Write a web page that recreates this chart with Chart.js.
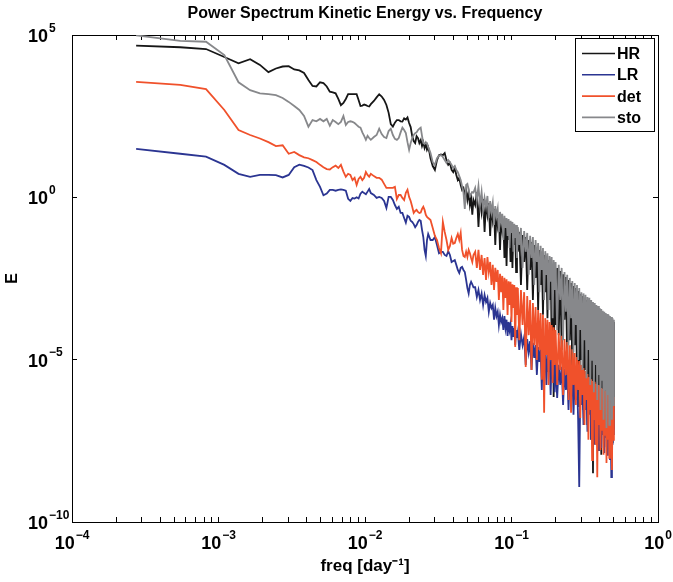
<!DOCTYPE html>
<html>
<head>
<meta charset="utf-8">
<script src="https://cdn.jsdelivr.net/npm/chart.js@4.4.1/dist/chart.umd.min.js"></script>
<style>
html,body{margin:0;padding:0;background:#fff;}
canvas{display:block;}
</style>
</head>
<body>
<canvas id="c" width="673" height="582"></canvas>
<script>
// ---- frequency (day^-1) ----
const freq = [
  0.000274,0.000548,0.000822,0.001096,0.00137,0.001644,0.001918,0.002192,0.002466,0.00274,
  0.003014,0.003288,0.003562,0.003836,0.00411,0.004384,0.004658,0.004932,0.005205,0.00548,
  0.005753,0.006027,0.006301,0.006575,0.006849,0.007123,0.007397,0.007671,0.007945,0.008219,
  0.008493,0.008767,0.009041,0.009315,0.009589,0.009863,0.01014,0.01041,0.01068,0.01096,
  0.0115,0.012,0.0125,0.013,0.0135,0.014,0.0145,0.015,0.0155,0.016,
  0.0165,0.017,0.0175,0.018,0.0185,0.019,0.0195,0.02,0.0205,0.021,
  0.0215,0.022,0.0225,0.023,0.0235,0.024,0.0245,0.025,0.0255,0.026,
  0.0265,0.027,0.0275,
  0.028,0.029,0.030,0.031,0.032,0.033,0.034,0.035,0.036,0.037,
  0.038,0.039,0.040,0.041,0.042,0.043,0.044,0.045,0.046,0.047,
  0.048,0.049,0.050,0.051,0.052,0.053,0.054,0.055,
  0.0565,0.058,0.0595,0.061,0.0625,0.064,0.0655,0.067,0.0685,0.07,
  0.0715,0.073,0.0745,0.076,0.0775,0.079,0.0805,0.082,0.0835,0.085,
  0.0865,0.088,0.0895,0.091,0.0925,0.094,0.0955,0.097,0.0985,0.1,
  0.1015,0.103,0.1045,0.106,0.1075,0.109,0.1105,
  0.113,0.116,0.119,0.122,0.125,0.128,0.131,0.134,0.137,0.140,
  0.143,0.146,0.149,0.152,0.155,0.158,0.161,0.164,0.167,0.170,
  0.173,0.176,0.179,0.182,0.185,0.188,0.191,0.194,0.197,0.200,
  0.205,0.21,0.215,0.22,0.225,0.23,0.235,0.24,0.245,0.25,
  0.255,0.26,0.265,0.27,0.275,0.28,0.285,0.29,0.295,0.30,
  0.305,0.31,0.315,0.32,0.325,0.33,0.335,0.34,0.345,0.35,
  0.355,0.36,0.365,0.37,0.375,0.38,0.385,0.39,0.395,0.40,
  0.405,0.41,0.415,0.42,0.425,0.43,0.435,0.44,0.445,0.45,
  0.455,0.46,0.465,0.47,0.475,0.48,0.485,0.49,0.495,0.50
];

// ---- HR ----
const hr = [
  4.7e4,4.2e4,3.7e4,2.1e4,1.35e4,1.8e4,1.2e4,7.2e3,9.3e3,1.07e4,
  1.1e4,8.7e3,8.1e3,6.8e3,4.1e3,2.7e3,2.6e3,3.5e3,3.3e3,2.6e3,
  1.8e3,1.7e3,1.6e3,1.07e3,690,810,1.07e3,1.5e3,1.5e3,1.5e3,
  1.5e3,1.5e3,1.0e3,650,670,720,690,650,630,740,
  930,1.2e3,1.5e3,1.27e3,1.0e3,700,400,180,150,200,
  240,240,220,215,270,250,290,195,146,77,
  54,47,77,67,47,58,38,50,33,44,
  29,35,25,
  16,9.2,7,14,20,21,20,23,14,10,
  11.4,7,6,8,4.9,3.4,4,2.4,1.7,1.95,
  1.2,1.7,0.83,1.4,0.58,0.96,0.29,0.83,
  0.58,1.46,0.122,1.1,0.355,0.89,0.086,0.72,0.29,0.67,
  0.065,0.54,0.2,0.44,0.034,0.355,0.14,0.29,0.024,0.23,
  0.1,0.2,0.0135,0.175,0.0077,0.152,0.0485,0.13,0.0102,0.114,
  0.0067,0.106,0.034,0.092,0.005,0.086,0.021,
  0.086,0.002,0.069,0.0102,0.06,0.0014,0.0485,0.0058,0.042,6.9e-4,
  0.034,0.0033,0.0275,3.4e-4,0.024,0.002,0.021,2.4e-4,0.0168,0.0012,
  0.0135,1.9e-4,0.0117,6.9e-4,0.0102,4e-5,8.3e-3,7.1e-7,7.2e-3,1.17e-4,
  6.7e-3,5.7e-5,5.4e-3,2e-5,4.3e-3,1.7e-4,3.5e-3,9.8e-6,2.85e-3,4e-5,
  2.3e-3,4.2e-6,1.86e-3,2.8e-5,1.6e-3,2.4e-6,1.3e-3,3.5e-7,1.06e-3,9.8e-6,
  9.2e-4,2.8e-7,8e-4,4.8e-6,6.9e-4,9.8e-8,6e-4,2.4e-6,5.2e-4,3.4e-8,
  4.85e-4,3.2e-9,4.2e-4,2e-7,3.9e-4,1.17e-6,3.4e-4,1.66e-8,3.2e-4,5.7e-7,
  3e-4,1.17e-8,2.56e-4,2.8e-7,2.4e-4,2e-8,2.2e-4,1.4e-7,2.07e-4,3.4e-8,
  1.9e-4,4e-7,1.8e-4,2.4e-8,1.7e-4,1.6e-7,1.56e-4,2.7e-8,1.45e-4,6.9e-8
];

// ---- LR ----
const lr = [
  31,22,18,10,5.3,4.3,4.9,4.9,4.8,4.1,
  4.9,8.5,10.2,9.3,8.3,6.9,3.4,2.1,1.15,1.3,
  1.7,1.7,1.6,1.7,1.75,1.7,1.6,0.9,0.78,0.95,
  0.92,1.0,0.92,1.3,1.5,1.35,1.25,1.5,1.8,1.35,
  1.18,0.96,1.03,0.96,0.77,0.47,1.03,1.03,0.83,0.58,
  0.44,0.51,0.33,0.33,0.23,0.165,0.27,0.25,0.19,0.175,
  0.15,0.12,0.14,0.175,0.2,0.19,0.1,0.06,0.024,0.0156,
  0.0485,0.074,0.06,
  0.0485,0.0485,0.06,0.034,0.019,0.021,0.021,0.0168,0.0156,0.022,
  0.0168,0.0102,0.011,0.0117,0.0083,0.0058,0.0047,0.0067,0.0072,0.0058,
  0.005,0.00285,0.0016,0.0011,0.002,0.0025,0.0021,0.0017,
  0.0017,8.5e-4,0.0014,6.9e-4,0.0011,4.85e-4,9.8e-4,6e-4,8e-4,3e-4,
  5.6e-4,3.9e-4,4.85e-4,1.7e-4,3.9e-4,2.2e-4,3e-4,1.17e-4,2.4e-4,1.45e-4,
  1.9e-4,8.2e-5,2.2e-4,9.4e-5,1.7e-4,5.4e-5,1.45e-4,8.2e-5,1.26e-4,4e-5,
  1.09e-4,5e-5,9.4e-5,2.8e-5,8.2e-5,4.7e-5,7.1e-5,
  2e-5,6.2e-5,2.8e-5,5e-5,6.9e-6,4.3e-5,1.7e-5,3.75e-5,4.8e-6,3.3e-5,
  1.13e-5,2.8e-5,3.4e-6,2.45e-5,8.5e-6,2.1e-5,1.17e-6,1.85e-5,5.5e-6,1.6e-5,
  1.66e-6,1.4e-5,4.2e-6,1.2e-5,8.2e-7,1.13e-5,3.4e-6,9.8e-6,1e-6,8.5e-6,
  6.6e-7,6.9e-6,1.66e-6,6e-6,4e-7,5.2e-6,1.17e-6,4.5e-6,2.8e-7,3.9e-6,
  8.2e-7,3.4e-6,2e-7,2.9e-6,5.7e-7,2.5e-6,1.4e-7,1.2e-9,1.9e-6,4e-7,
  1.66e-6,9.8e-8,1.44e-6,2.8e-7,1.34e-6,6e-8,1.17e-6,2e-7,1.09e-6,3.4e-8,
  9.4e-7,1.4e-7,8.8e-7,2.4e-8,8.2e-7,9.8e-8,7.1e-7,1.66e-8,6.6e-7,6.9e-8,
  6.2e-7,1.9e-8,5.7e-7,4.8e-8,5.4e-7,1.34e-8,5e-7,3.9e-8,4.7e-7,1.17e-8,
  4.3e-7,3.4e-8,4e-7,8.1e-9,3.75e-7,2.4e-9,3.5e-7,2.4e-8,3.3e-7,4.8e-8
];

// ---- det ----
const det = [
  3.6e3,2.9e3,2.15e3,490,118,83,65,50,38,40,
  22,25,20,17,16,14,12.3,10,8.5,7.4,
  7.2,8.5,9.5,8,10,6.2,4.3,5.3,4.9,3.4,
  4,2.4,3.7,4.3,3.4,4,6,4.9,4.3,5.3,
  4.5,4,4,3.5,2.6,1.95,1.95,1.95,1.95,2.1,
  0.89,1.18,1.18,0.96,0.83,1.37,1.7,1.03,0.77,0.51,
  0.33,0.38,0.41,0.355,0.33,0.34,0.44,0.51,0.41,0.29,
  0.25,0.23,0.215,
  0.2,0.114,0.065,0.0485,0.0275,0.019,0.175,0.086,0.0485,0.024,
  0.032,0.056,0.037,0.039,0.056,0.074,0.0485,0.08,0.024,0.0156,
  0.0145,0.021,0.0145,0.024,0.019,0.0135,0.0102,0.0168,
  0.021,0.0067,0.024,0.0058,0.0168,0.0041,0.0135,0.00285,0.0145,0.005,
  0.0102,0.002,0.0083,0.0014,0.0067,0.0025,0.0058,6.9e-4,0.0044,0.0012,
  0.0038,3.4e-4,0.0033,8e-4,0.003,2.4e-4,0.0026,4.85e-4,0.0025,1.45e-4,
  0.0021,3.9e-4,0.002,2.45e-5,0.0017,2.4e-4,0.0016,
  4e-5,1.4e-3,1.17e-4,1.2e-3,6e-6,9.2e-4,5.7e-5,6.9e-4,4.8e-6,5.6e-4,
  2.8e-5,4.2e-4,9.8e-6,3.4e-4,2e-5,2.75e-4,2.4e-6,2.4e-4,2.3e-7,1.9e-4,
  1.4e-5,1.7e-4,1.66e-6,1.45e-4,9.8e-6,1.17e-4,1.9e-6,1.0e-4,6.9e-6,8.2e-5,
  1.66e-6,6.6e-5,4.8e-6,5.4e-5,8.2e-7,4.3e-5,3.4e-6,3.5e-5,5.7e-7,2.8e-5,
  2.3e-7,2.1e-5,1.66e-6,1.6e-5,4e-7,1.2e-5,1.17e-6,9.1e-6,1.6e-7,6.9e-6,
  8.2e-7,5.5e-6,9.8e-8,4.5e-6,5.7e-7,3.6e-6,3.4e-8,2.9e-6,2.8e-7,2.5e-6,
  8.1e-9,2.2e-6,1.4e-7,2.1e-6,2.4e-8,1.8e-6,2.4e-9,1.66e-6,9.8e-8,1.55e-6,
  1.66e-8,1.34e-6,6.9e-8,1.26e-6,1.17e-8,1.17e-6,4.8e-8,1.09e-6,6.6e-9,1.0e-6,
  3.4e-8,9.4e-7,9.4e-9,8.8e-7,6.9e-8,8.2e-7,4e-9,7.6e-7,3.4e-8,7.1e-7
];

// ---- sto ----
const sto = [
  9.8e4,6.6e4,6.2e4,2.4e4,3.5e3,2.0e3,1.6e3,1.5e3,1.4e3,1.15e3,
  870,650,490,320,150,240,220,260,220,260,
  160,240,210,180,210,320,170,210,220,210,
  195,170,150,140,100,78,59,78,67,59,
  72,83,130,89,72,67,110,130,83,63,
  59,67,100,140,118,95,50,29,47,67,
  83,95,100,118,130,140,78,47,44,47,
  47,35,29,
  23,12,10,16,19,20,17.5,14,11.4,14,
  12,10,8,9.2,7,6,4.5,3.4,2.2,1.4,
  0.44,2.4,2.6,1.7,1.1,1.27,1.45,1.4,
  1.95,0.83,2.2,0.58,1.46,0.41,0.96,0.51,1.1,0.23,
  0.77,0.355,0.67,0.14,0.54,0.27,0.44,0.086,0.355,0.175,
  0.31,0.0485,0.27,0.114,0.23,0.065,0.216,0.0275,0.19,0.08,
  0.175,0.021,0.152,0.056,0.14,0.0135,0.122,
  0.034,0.114,0.0067,0.092,0.021,0.08,0.0041,0.065,0.0135,0.06,
  0.002,0.0485,0.0102,0.039,0.0012,0.032,0.0058,0.0275,6.9e-4,0.022,
  0.0041,0.019,3.4e-4,0.0156,0.0025,0.0145,1.9e-4,0.0117,0.0014,0.0102,
  8.2e-5,8.3e-3,6.9e-4,6.7e-3,4e-5,5e-3,3e-4,4.1e-3,2.8e-5,3.3e-3,
  1.9e-4,2.65e-3,1.7e-5,2.3e-3,1.17e-4,2e-3,9.8e-6,1.6e-3,8.2e-5,1.2e-3,
  4.8e-6,1.1e-3,4e-5,1e-3,2.7e-6,8.5e-4,2e-5,8e-4,1.66e-6,6.9e-4,
  9.8e-6,6e-4,1e-6,5.6e-4,6.9e-6,4.85e-4,5.7e-7,4.5e-4,3.4e-6,3.9e-4,
  2.8e-7,3.65e-4,2.4e-6,3.2e-4,1.4e-7,3e-4,1.17e-6,2.75e-4,7.9e-8,2.56e-4,
  8.2e-7,2.4e-4,9.8e-8,2.2e-4,5.7e-7,2.07e-4,1.4e-7,1.9e-4,4e-7,1.7e-4
];

const seriesNames = ['HR', 'LR', 'det', 'sto'];
const seriesValues = [hr, lr, det, sto];
const seriesColors = ['#161616', '#2b3592', '#f0512b', '#87888b'];

const xTickValues = [1e-4, 1e-3, 1e-2, 1e-1, 1];
const xTickExponents = ['\u22124', '\u22123', '\u22122', '\u22121', '0'];
const yTickValues = [1e-10, 1e-5, 1, 1e5];
const yTickExponents = ['\u221210', '\u22125', '0', '5'];
const xMinorMultipliers = [2, 3, 4, 5, 6, 7, 8, 9];

const FONT = '"Liberation Sans", Arial, Helvetica, sans-serif';

const xTickList = [];
xTickValues.forEach((d, i) => {
  xTickList.push(d);
  if (i < xTickValues.length - 1) xMinorMultipliers.forEach(m => xTickList.push(m * d));
});

function setXTicks(scale) { scale.ticks = xTickList.map(v => ({ value: v })); }
function setYTicks(scale) { scale.ticks = yTickValues.map(v => ({ value: v })); }

const inwardGrid = { display: true, drawOnChartArea: false, drawTicks: true, tickLength: -5, color: '#000', lineWidth: 1 };
const axisBorder = { display: true, color: '#000', width: 1 };

const tickLabelPlugin = {
  id: 'tickLabelPlugin',
  afterDraw(chart) {
    const { ctx, chartArea } = chart;
    const xs = chart.scales.x, ys = chart.scales.y;
    const baseFont = 'bold 18px ' + FONT;
    const supFont = 'bold 12px ' + FONT;
    ctx.save();
    ctx.fillStyle = '#000';
    ctx.textAlign = 'left';
    ctx.textBaseline = 'alphabetic';
    ctx.font = baseFont;
    const wb = ctx.measureText('10').width;
    xTickValues.forEach((v, i) => {
      const px = xs.getPixelForValue(v);
      ctx.font = supFont;
      const we = ctx.measureText(xTickExponents[i]).width;
      const left = px - (wb + 1 + we) / 2;
      ctx.font = baseFont;
      ctx.fillText('10', left, chartArea.bottom + 27);
      ctx.font = supFont;
      ctx.fillText(xTickExponents[i], left + wb + 1, chartArea.bottom + 16.5);
    });
    yTickValues.forEach((v, i) => {
      const py = ys.getPixelForValue(v);
      ctx.font = baseFont;
      ctx.fillText('10', 28, py + 7);
      ctx.font = supFont;
      ctx.fillText(yTickExponents[i], 28 + wb + 1, py - 3.5);
    });
    ctx.restore();
  }
};

const legendBoxPlugin = {
  id: 'legendBoxPlugin',
  afterDraw(chart) {
    const { ctx, chartArea } = chart;
    const w = 79, h = 93;
    const left = Math.round(chartArea.right - 4 - w);
    const top = Math.round(chartArea.top + 3);
    ctx.save();
    ctx.fillStyle = '#fff';
    ctx.fillRect(left, top, w, h);
    ctx.strokeStyle = '#000';
    ctx.lineWidth = 1;
    ctx.strokeRect(left + 0.5, top + 0.5, w, h);
    ctx.font = 'bold 16px ' + FONT;
    ctx.textBaseline = 'middle';
    ctx.textAlign = 'left';
    chart.data.datasets.forEach((ds, i) => {
      const y = top + 15.5 + i * 21.3;
      ctx.strokeStyle = ds.borderColor;
      ctx.lineWidth = 1.6;
      ctx.beginPath();
      ctx.moveTo(left + 7, y);
      ctx.lineTo(left + 40, y);
      ctx.stroke();
      ctx.fillStyle = '#000';
      ctx.fillText(ds.label, left + 42, y + 1);
    });
    ctx.restore();
  }
};

new Chart(document.getElementById('c'), {
  type: 'line',
  data: {
    datasets: seriesNames.map((name, i) => ({
      label: name,
      data: freq.map((f, j) => ({ x: f, y: seriesValues[i][j] })),
      borderColor: seriesColors[i],
      backgroundColor: seriesColors[i],
      borderWidth: 1.8,
      pointRadius: 0,
      pointHoverRadius: 0,
      tension: 0,
      fill: false,
      order: 3 - i,
      xAxisID: 'x',
      yAxisID: 'y'
    }))
  },
  options: {
    responsive: false,
    devicePixelRatio: 1,
    animation: false,
    events: [],
    layout: { padding: { left: 0, right: 15, top: 0, bottom: 0 } },
    plugins: {
      legend: { display: false },
      tooltip: { enabled: false },
      title: {
        display: true,
        fullSize: false,
        text: 'Power Spectrum Kinetic Energy vs. Frequency',
        color: '#000',
        font: { family: FONT, size: 16, weight: 'bold', lineHeight: 1.2 },
        padding: { top: 4.4, bottom: 11.4 }
      }
    },
    scales: {
      x: {
        type: 'logarithmic', position: 'bottom', min: 1e-4, max: 1,
        afterBuildTicks: setXTicks,
        afterFit: s => { s.height = 60; },
        ticks: { display: false },
        grid: inwardGrid, border: axisBorder,
        title: {
          display: true, text: 'freq [day\u207B\u00B9]', color: '#000',
          font: { family: FONT, size: 17, weight: 'bold', lineHeight: 1.2 },
          padding: { top: 0, bottom: 5.8 }
        }
      },
      x2: {
        type: 'logarithmic', position: 'top', min: 1e-4, max: 1,
        afterBuildTicks: setXTicks,
        afterFit: s => { s.height = 0; },
        ticks: { display: false },
        grid: inwardGrid, border: axisBorder
      },
      y: {
        type: 'logarithmic', position: 'left', min: 1e-10, max: 1e5,
        afterBuildTicks: setYTicks,
        afterFit: s => { s.width = 72; },
        ticks: { display: false },
        grid: inwardGrid, border: axisBorder,
        title: {
          display: true, text: 'E', color: '#000',
          font: { family: FONT, size: 16, weight: 'bold', lineHeight: 1.2 },
          padding: { top: 3, bottom: 0 }
        }
      },
      y2: {
        type: 'logarithmic', position: 'right', min: 1e-10, max: 1e5,
        afterBuildTicks: setYTicks,
        afterFit: s => { s.width = 0; },
        ticks: { display: false },
        grid: inwardGrid, border: axisBorder
      }
    }
  },
  plugins: [tickLabelPlugin, legendBoxPlugin]
});
</script>
</body>
</html>
